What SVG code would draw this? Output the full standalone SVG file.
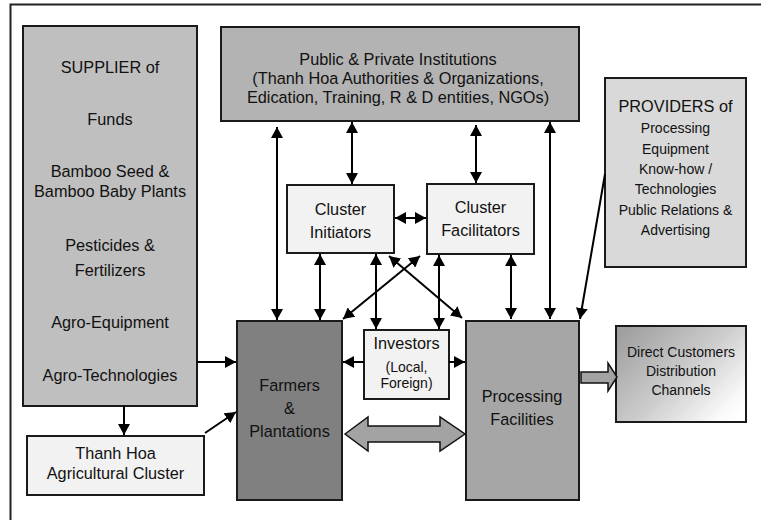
<svg xmlns="http://www.w3.org/2000/svg" width="761" height="520" viewBox="0 0 761 520">
<defs>
<style>
.box{stroke:#1a1a1a;stroke-width:2}
.t{font-family:"Liberation Sans",Arial,sans-serif;font-size:16.3px;fill:#111;text-anchor:middle}
.s{font-size:14px}
.c{fill:none;stroke:#000;stroke-width:2}
.blk{fill:#a3a3a3;stroke:#111;stroke-width:1.5;stroke-linejoin:miter}
</style>
<marker id="ah" markerUnits="userSpaceOnUse" markerWidth="12" markerHeight="12" refX="11" refY="6" orient="auto-start-reverse" viewBox="0 0 12 12">
<path d="M0,0 L11,6 L0,12 z" fill="#000"/>
</marker>
<linearGradient id="dc" x1="0" y1="0.15" x2="1" y2="0.9">
<stop offset="0" stop-color="#a0a0a0"/>
<stop offset="0.5" stop-color="#cdcdcd"/>
<stop offset="0.9" stop-color="#fbfbfb"/>
<stop offset="1" stop-color="#ffffff"/>
</linearGradient>
</defs>
<rect x="0" y="0" width="761" height="520" fill="#fff"/>
<rect id="frame" x="10.5" y="4.5" width="800" height="600" fill="none" stroke="#222" stroke-width="2"/>

<g id="supplier">
<rect class="box" x="23" y="26" width="174" height="380" fill="#bfbfbf"/>
<text class="t" x="110" y="73">SUPPLIER of</text>
<text class="t" x="110" y="125">Funds</text>
<text class="t" x="110" y="177">Bamboo Seed &amp;</text>
<text class="t" x="110" y="197">Bamboo Baby Plants</text>
<text class="t" x="110" y="251">Pesticides &amp;</text>
<text class="t" x="110" y="276">Fertilizers</text>
<text class="t" x="110" y="328">Agro-Equipment</text>
<text class="t" x="110" y="381">Agro-Technologies</text>
</g>

<g id="public">
<rect class="box" x="221" y="27" width="358" height="94" fill="#b3b3b3"/>
<text class="t" x="398" y="65">Public &amp; Private Institutions</text>
<text class="t" x="398" y="84">(Thanh Hoa Authorities &amp; Organizations,</text>
<text class="t" x="398" y="103">Edication, Training, R &amp; D entities, NGOs)</text>
</g>

<g id="providers">
<rect class="box" x="605" y="78" width="141" height="189" fill="#d9d9d9"/>
<text class="t" x="675.5" y="112">PROVIDERS of</text>
<text class="t s" x="675.5" y="133">Processing</text>
<text class="t s" x="675.5" y="153.5">Equipment</text>
<text class="t s" x="675.5" y="174">Know-how /</text>
<text class="t s" x="675.5" y="194">Technologies</text>
<text class="t s" x="675.5" y="214.5">Public Relations &amp;</text>
<text class="t s" x="675.5" y="235">Advertising</text>
</g>

<g id="initiators">
<rect class="box" x="287" y="185" width="107" height="68" fill="#f2f2f2"/>
<text class="t" x="340.5" y="215">Cluster</text>
<text class="t" x="340.5" y="238">Initiators</text>
</g>

<g id="facilitators">
<rect class="box" x="427" y="184" width="107" height="70" fill="#f2f2f2"/>
<text class="t" x="480.5" y="213">Cluster</text>
<text class="t" x="480.5" y="236">Facilitators</text>
</g>

<g id="investors">
<rect class="box" x="364" y="330" width="85" height="69" fill="#f2f2f2"/>
<text class="t" x="406.5" y="349">Investors</text>
<text class="t s" x="406.5" y="372">(Local,</text>
<text class="t s" x="406.5" y="388">Foreign)</text>
</g>

<g id="farmers">
<rect class="box" x="237" y="321" width="105" height="179" fill="#808080"/>
<text class="t" x="289.5" y="391">Farmers</text>
<text class="t" x="289.5" y="414">&amp;</text>
<text class="t" x="289.5" y="437">Plantations</text>
</g>

<g id="processing">
<rect class="box" x="466" y="321" width="113" height="179" fill="#a6a6a6"/>
<text class="t" x="522" y="402">Processing</text>
<text class="t" x="522" y="425">Facilities</text>
</g>

<g id="customers">
<rect class="box" x="616" y="326" width="130" height="96" fill="url(#dc)"/>
<text class="t s" x="681" y="357">Direct Customers</text>
<text class="t s" x="681" y="376">Distribution</text>
<text class="t s" x="681" y="395">Channels</text>
</g>

<g id="agricluster">
<rect class="box" x="27" y="436" width="177" height="59" fill="#f2f2f2"/>
<text class="t" x="115.5" y="459">Thanh Hoa</text>
<text class="t" x="115.5" y="479">Agricultural Cluster</text>
</g>

<g id="connectors">
<path class="c" d="M197,362 L236,362" marker-end="url(#ah)"/>
<path class="c" d="M124,406 L124,435" marker-end="url(#ah)"/>
<path class="c" d="M205,433 L236,412" marker-end="url(#ah)"/>
<path class="c" d="M277,127 L277,320" marker-start="url(#ah)" marker-end="url(#ah)"/>
<path class="c" d="M352,122 L352,184" marker-start="url(#ah)" marker-end="url(#ah)"/>
<path class="c" d="M476,125 L476,183" marker-start="url(#ah)" marker-end="url(#ah)"/>
<path class="c" d="M550,122 L550,319" marker-start="url(#ah)" marker-end="url(#ah)"/>
<path class="c" d="M395,218 L426,218" marker-start="url(#ah)" marker-end="url(#ah)"/>
<path class="c" d="M320,254 L320,320" marker-start="url(#ah)" marker-end="url(#ah)"/>
<path class="c" d="M376,254 L376,329" marker-start="url(#ah)" marker-end="url(#ah)"/>
<path class="c" d="M439,255 L439,329" marker-start="url(#ah)" marker-end="url(#ah)"/>
<path class="c" d="M511,255 L511,319" marker-start="url(#ah)" marker-end="url(#ah)"/>
<path class="c" d="M420,256 L343,319" marker-start="url(#ah)" marker-end="url(#ah)"/>
<path class="c" d="M389,256 L462,318" marker-start="url(#ah)" marker-end="url(#ah)"/>
<path class="c" d="M364,362 L343,362" marker-end="url(#ah)"/>
<path class="c" d="M449,362 L465,362" marker-end="url(#ah)"/>
<path class="c" d="M605,174 L580,319" marker-end="url(#ah)"/>
<polygon class="blk" points="345,434 368,417 368,426 440,426 440,417 465,434 440,451 440,442 368,442 368,451"/>
<polygon class="blk" points="581,372 608,372 608,363 617,377 608,391 608,383 581,383"/>
</g>
</svg>
